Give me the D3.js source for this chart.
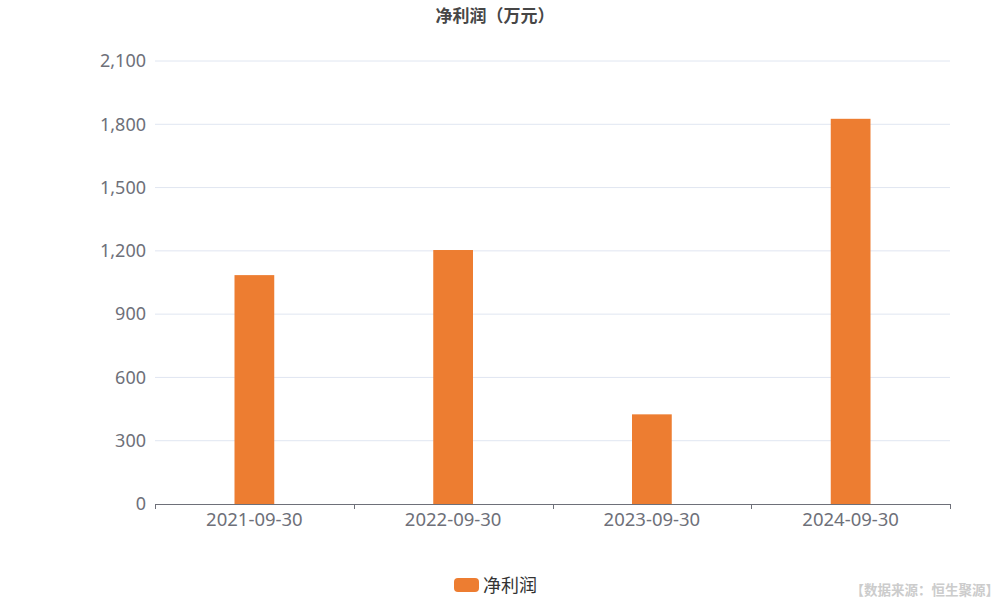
<!DOCTYPE html>
<html>
<head>
<meta charset="utf-8">
<script src="https://cdn.jsdelivr.net/npm/d3@7"></script>
<style>
  body { margin: 0; background: #fff; }
  text { font-family: "Noto Sans CJK SC", "Noto Sans", sans-serif; }
  .axis text { font-family: "Noto Sans", "Noto Sans CJK SC", sans-serif; }
</style>
</head>
<body>
<div id="chart"></div>
<script>
// data
var categories = ["2021-09-30", "2022-09-30", "2023-09-30", "2024-09-30"];
var netProfit = [1085, 1204, 425, 1826];
var yTicks = [0, 300, 600, 900, 1200, 1500, 1800, 2100];
var seriesName = "净利润";

var margin = {top: 61, right: 50, bottom: 96, left: 155},
    width = 1000 - margin.left - margin.right,
    height = 600 - margin.top - margin.bottom;

var svg = d3.select("#chart")
  .append("svg")
    .attr("width", 1000)
    .attr("height", 600);

var g = svg.append("g")
    .attr("transform", "translate(" + margin.left + "," + margin.top + ")");

var x = d3.scaleBand()
  .domain(categories)
  .range([0, width]);

var y = d3.scaleLinear()
  .domain([0, 2100])
  .range([height, 0]);

// grid lines
g.append("g")
  .selectAll("line")
  .data(yTicks.slice(1))
  .enter()
  .append("line")
    .attr("x1", 0)
    .attr("x2", width)
    .attr("y1", function(d) { return y(d); })
    .attr("y2", function(d) { return y(d); })
    .style("stroke", "#E0E6F1")
    .style("stroke-width", 1);

// y axis labels
var yAxis = g.append("g")
  .attr("class", "axis")
  .call(d3.axisLeft(y).tickValues(yTicks).tickSize(0).tickPadding(9).tickFormat(d3.format(",")));
yAxis.select(".domain").remove();
yAxis.selectAll("text")
  .style("font-size", "18px")
  .style("fill", "#6E7079");

// bars
var barW = x.bandwidth() * 0.2;
g.append("g")
  .selectAll("rect")
  .data(netProfit)
  .enter()
  .append("rect")
    .attr("x", function(d, i) { return x(categories[i]) + x.bandwidth() / 2 - barW / 2; })
    .attr("y", function(d) { return y(d); })
    .attr("width", barW)
    .attr("height", function(d) { return height - y(d); })
    .style("fill", "#ED7D31");

// x axis
var xAxis = g.append("g")
  .attr("class", "axis")
  .attr("transform", "translate(0," + height + ")")
  .call(d3.axisBottom(x).tickSize(0).tickPadding(9));
xAxis.select(".domain").style("stroke", "#6E7079");
xAxis.selectAll("text")
  .style("font-size", "18.5px")
  .style("fill", "#6E7079");

// ticks at band boundaries
var bounds = categories.map(function(c) { return x(c); }).concat([width]);
xAxis.selectAll(".bound")
  .data(bounds)
  .enter()
  .append("line")
    .attr("class", "bound")
    .attr("x1", function(d) { return Math.round(d) + 0.5; })
    .attr("x2", function(d) { return Math.round(d) + 0.5; })
    .attr("y1", 0)
    .attr("y2", 5)
    .style("stroke", "#6E7079");

// title
svg.append("text")
  .attr("x", 495)
  .attr("y", 22)
  .attr("text-anchor", "middle")
  .style("font-size", "17px")
  .style("font-weight", "bold")
  .style("fill", "#464646")
  .text("净利润（万元）");

// legend
svg.append("rect")
  .attr("x", 454)
  .attr("y", 578)
  .attr("width", 25)
  .attr("height", 14)
  .attr("rx", 4)
  .style("fill", "#ED7D31");
svg.append("text")
  .attr("x", 483)
  .attr("y", 592)
  .style("font-size", "18px")
  .style("fill", "#333")
  .text(seriesName);

// source note
svg.append("text")
  .attr("x", 999)
  .attr("y", 595)
  .attr("text-anchor", "end")
  .style("font-size", "13.5px")
  .style("font-weight", "bold")
  .style("fill", "#cccccc")
  .text("【数据来源：恒生聚源】");
</script>
</body>
</html>
